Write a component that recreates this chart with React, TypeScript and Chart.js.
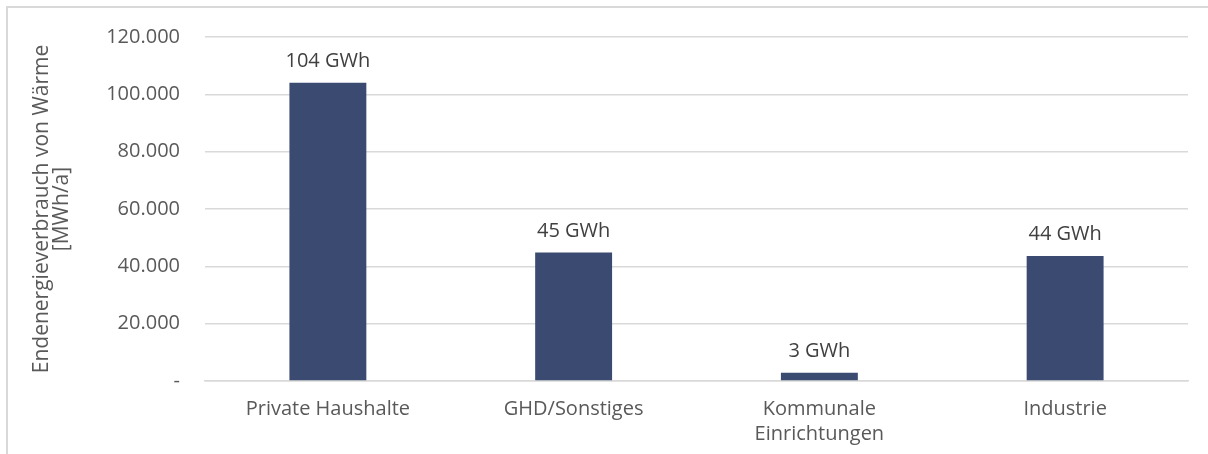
import React, { useEffect, useRef } from "react";
import { Chart, registerables } from "chart.js";

Chart.register(...registerables);

const categories: (string | string[])[] = [
  "Private Haushalte",
  "GHD/Sonstiges",
  ["Kommunale", "Einrichtungen"],
  "Industrie",
];
const values: number[] = [104000, 44800, 2900, 43600];
const valueLabels: string[] = ["104 GWh", "45 GWh", "3 GWh", "44 GWh"];
const yTitle: string[] = ["Endenergieverbrauch von Wärme", "[MWh/a]"];

const FONT = "'Open Sans', 'Noto Sans', sans-serif";

const formatDE = (v: number) =>
  v === 0 ? "-" : String(v).replace(/\B(?=(\d{3})+(?!\d))/g, ".");

const labelPlugin = {
  id: "barLabels",
  afterDatasetsDraw(chart: any) {
    const ctx = chart.ctx;
    const meta = chart.getDatasetMeta(0);
    ctx.save();
    ctx.font = `20px ${FONT}`;
    ctx.fillStyle = "#404040";
    ctx.textAlign = "center";
    ctx.textBaseline = "alphabetic";
    meta.data.forEach((bar: any, i: number) => {
      ctx.fillText(valueLabels[i], bar.x, bar.y - 16);
    });
    ctx.restore();
  },
};

export default function App() {
  const ref = useRef<HTMLCanvasElement>(null);
  useEffect(() => {
    if (!ref.current) return;
    const chart = new Chart(ref.current, {
      type: "bar",
      data: {
        labels: categories,
        datasets: [
          {
            data: values,
            backgroundColor: "#3b4a70",
            categoryPercentage: 1,
            barPercentage: 0.313,
          },
        ],
      },
      options: {
        responsive: false,
        animation: false,
        devicePixelRatio: 1,
        layout: { padding: { left: 0, top: 37, right: 20, bottom: 0 } },
        plugins: {
          legend: { display: false },
          tooltip: { enabled: false },
        },
        scales: {
          x: {
            grid: { display: false, drawTicks: false },
            border: { display: true, color: "#d9d9d9", width: 1.5 },
            ticks: {
              color: "#595959",
              font: { family: FONT, size: 20, lineHeight: 1.25 },
              padding: 16,
              maxRotation: 0,
              autoSkip: false,
            },
            afterFit: (s: any) => {
              s.height = 73;
            },
          },
          y: {
            min: 0,
            max: 120000,
            grid: { color: "#d9d9d9", lineWidth: 1.5, drawTicks: false },
            border: { display: false },
            ticks: {
              stepSize: 20000,
              color: "#595959",
              font: { family: FONT, size: 20 },
              padding: 25,
              callback: (v: any) => formatDE(Number(v)),
            },
            title: {
              display: true,
              text: yTitle,
              color: "#595959",
              font: { family: FONT, size: 21, lineHeight: 0.95 },
              padding: { top: 32, bottom: 0 },
            },
            afterFit: (s: any) => {
              s.width = 205;
            },
          },
        },
      },
      plugins: [labelPlugin],
    });
    return () => chart.destroy();
  }, []);

  return (
    <div
      style={{
        position: "absolute",
        left: 0,
        top: 0,
        width: 1208,
        height: 454,
        overflow: "hidden",
        background: "#fff",
      }}
    >
      <div
        style={{
          position: "absolute",
          left: 6,
          top: 6,
          width: 1300,
          height: 600,
          border: "2px solid #d9d9d9",
        }}
      />
      <canvas
        ref={ref}
        width={1208}
        height={454}
        style={{ position: "absolute", left: 0, top: 0 }}
      />
    </div>
  );
}
